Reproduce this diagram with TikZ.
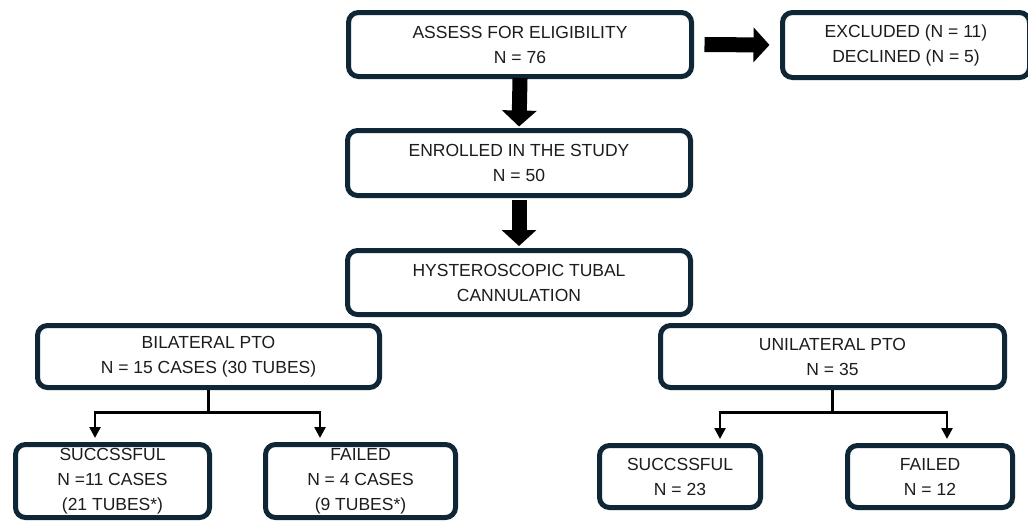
\documentclass[tikz,border=0pt]{standalone}
\usepackage{fontspec}
\setmainfont{Liberation Sans}
\usetikzlibrary{arrows.meta,calc}
\definecolor{navy}{HTML}{0E2636}
\definecolor{ink}{HTML}{1C1C1C}
\begin{document}
\begin{tikzpicture}[x=1pt,y=-1pt,
  box/.style={draw=navy, line width=5pt, rounded corners=10pt, fill=white,
    align=center, inner sep=0pt, text=ink,
    font=\fontsize{17.5}{25}\selectfont},
  bigarrow/.style={draw=black, line width=15pt, -{Triangle[width=34pt,length=16pt]}},
  thinarrow/.style={draw=black, line width=2.5pt, -{Triangle[width=11pt,length=11pt]}},
  thinline/.style={draw=black, line width=2.5pt}]
\useasboundingbox (0,0) rectangle (1028,520);
\clip (0,0) rectangle (1028,520);
\fill[white] (0,0) rectangle (1028,520);

\node[box, minimum width=343pt, minimum height=64pt] (assess) at (520,44.5) {ASSESS FOR ELIGIBILITY\\N = 76};
\node[box, minimum width=247pt, minimum height=65pt] (excl) at (906,45) {EXCLUDED (N = 11)\\DECLINED (N = 5)};
\node[box, minimum width=343pt, minimum height=65pt] (enr) at (519,163) {ENROLLED IN THE STUDY\\N = 50};
\node[box, minimum width=343pt, minimum height=64pt] (hyst) at (519,282.5) {HYSTEROSCOPIC TUBAL\\CANNULATION};
\node[box, minimum width=342pt, minimum height=62pt] (bil) at (208.5,356.5) {BILATERAL PTO\\N = 15 CASES (30 TUBES)};
\node[box, minimum width=344pt, minimum height=62pt] (uni) at (832.5,356.5) {UNILATERAL PTO\\N = 35};
\node[box, minimum width=194pt, minimum height=73pt] (succL) at (112.5,481) {SUCCSSFUL\\N =11 CASES\\(21 TUBES*)};
\node[box, minimum width=190pt, minimum height=73pt] (failL) at (360.5,481) {FAILED\\N = 4 CASES\\(9 TUBES*)};
\node[box, minimum width=161pt, minimum height=62pt] (succR) at (680,476.5) {SUCCSSFUL\\N = 23};
\node[box, minimum width=165pt, minimum height=62pt] (failR) at (930,476.5) {FAILED\\N = 12};

\draw[bigarrow, shorten <=10.5pt, shorten >=10.5pt] (assess.east) -- (excl.west);
\draw[bigarrow, shorten <=-1pt, shorten >=1.5pt] (assess.south) -- (enr.north);
\draw[bigarrow, shorten <=2pt, shorten >=2pt] (enr.south) -- (hyst.north);

\coordinate (bj) at ($(bil.south)+(0,22.5)$);
\draw[thinline] (bil.south) -- (bj);
\draw[thinarrow, shorten >=4pt] (bj) -| ([xshift=-17.5pt]succL.north);
\draw[thinarrow, shorten >=4pt] (bj) -| ([xshift=-40.5pt]failL.north);

\coordinate (uj) at ($(uni.south)+(0,22.5)$);
\draw[thinline] (uni.south) -- (uj);
\draw[thinarrow, shorten >=4pt] (uj) -| ([xshift=40pt]succR.north);
\draw[thinarrow, shorten >=4pt] (uj) -| ([xshift=17pt]failR.north);
\end{tikzpicture}
\end{document}
